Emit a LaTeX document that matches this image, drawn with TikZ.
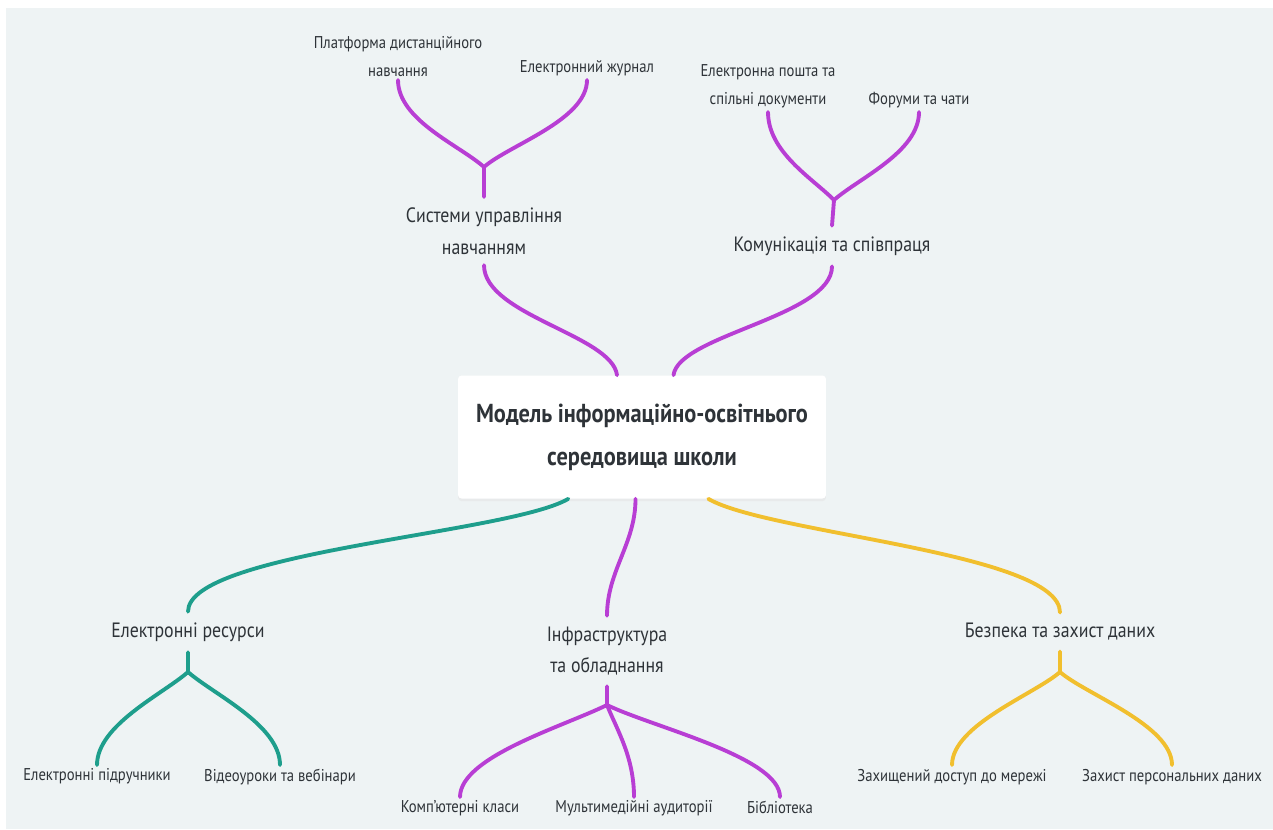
\documentclass[tikz,border=0pt]{standalone}
\usepackage{fontspec}
\setmainfont{PT Sans}[FakeStretch=0.86]
\usepackage{tikz}
\usetikzlibrary{shadows}
\definecolor{canvas}{RGB}{238,243,244}
\definecolor{ink}{RGB}{46,51,56}
\definecolor{violetlimb}{RGB}{184,62,212}
\definecolor{teallimb}{RGB}{30,158,140}
\definecolor{goldlimb}{RGB}{241,191,46}

\begin{document}
\begin{tikzpicture}[x=0.02cm, y=-0.02cm,
  core/.style={fill=white, rounded corners=2pt, minimum width=7.36cm, minimum height=2.46cm, font=\fontsize{14.8}{24.4}\selectfont\bfseries, text=ink, align=center, drop shadow={shadow xshift=0pt, shadow yshift=-1.5pt, fill=black!10, opacity=0.6}},
  topic/.style={font=\fontsize{11.8}{18}\selectfont, text=ink, align=center, inner xsep=2pt, inner ysep=6pt},
  leaf/.style={font=\fontsize{9.7}{15.9}\selectfont, text=ink, align=center, inner sep=2pt},
  limb/.style={line width=2.2pt, line cap=round, draw=#1}
]

% --- Canvas ---
\useasboundingbox (0,0) rectangle (1273,829);
\fill[white] (0,0) rectangle (1273,829);
\fill[canvas] (6,8) rectangle (1273,829);

% --- Centre ---
\node[core] (model) at (642,437) {Модель інформаційно-освітнього\\середовища школи};

% --- Main topics ---
\node[topic] (lms) at (484,231) {Системи управління\\навчанням};
\node[topic] (comm) at (832,246) {Комунікація та співпраця};
\node[topic] (eres) at (188,632) {Електронні ресурси};
\node[topic] (infra) at (607,651) {Інфраструктура\\та обладнання};
\node[topic] (secur) at (1060,632) {Безпека та захист даних};

% --- Fork points ---
\coordinate (lmsfork) at (484,167);
\coordinate (commfork) at (834,200);
\coordinate (eresfork) at (188,672);
\coordinate (infrafork) at (607,705);
\coordinate (securfork) at (1060,672);

% --- Leaves ---
\node[leaf, anchor=south] (distant) at (398,80) {Платформа дистанційного\\навчання};
\node[leaf, anchor=south] (journal) at (587,80) {Електронний журнал};
\node[leaf, anchor=south] (mail) at (768,112) {Електронна пошта та\\спільні документи};
\node[leaf, anchor=south] (forums) at (919,112) {Форуми та чати};
\node[leaf, anchor=north] (books) at (97,765) {Електронні підручники};
\node[leaf, anchor=north] (video) at (280,765) {Відеоуроки та вебінари};
\node[leaf, anchor=north] (labs) at (460,797) {Комп'ютерні класи};
\node[leaf, anchor=north] (media) at (634,797) {Мультимедійні аудиторії};
\node[leaf, anchor=north] (library) at (780,797) {Бібліотека};
\node[leaf, anchor=north] (access) at (952,765) {Захищений доступ до мережі};
\node[leaf, anchor=north] (privacy) at (1172,765) {Захист персональних даних};

% --- Centre -> topics ---
\draw[limb=violetlimb] (model.112) .. controls +(-5,-40) and +(0,50) .. (lms.south);
\draw[limb=violetlimb] (model.63) .. controls +(5,-40) and +(0,50) .. (comm.south);
\draw[limb=teallimb] (model.220) .. controls +(-60,35) and +(0,-60) .. (eres.north);
\draw[limb=violetlimb] (model.264) .. controls +(0,45) and +(0,-45) .. (infra.north);
\draw[limb=goldlimb] (model.317) .. controls +(60,35) and +(0,-60) .. (secur.north);

% --- Topics -> leaves ---
\draw[limb=violetlimb] (lms.north) -- (lmsfork) .. controls +(-25,-22) and +(0,40) .. (distant.south);
\draw[limb=violetlimb] (lmsfork) .. controls +(25,-22) and +(0,40) .. (journal.south);
\draw[limb=violetlimb] (comm.north) -- (commfork) .. controls +(-22,-22) and +(0,40) .. (mail.south);
\draw[limb=violetlimb] (commfork) .. controls +(25,-22) and +(0,40) .. (forums.south);
\draw[limb=teallimb] (eres.south) -- (eresfork) .. controls +(-25,22) and +(0,-40) .. (books.north);
\draw[limb=teallimb] (eresfork) .. controls +(25,22) and +(0,-40) .. (video.north);
\draw[limb=violetlimb] (infra.south) -- (infrafork) .. controls +(-45,22) and +(0,-40) .. (labs.north);
\draw[limb=violetlimb] (infrafork) .. controls +(10,25) and +(0,-40) .. (media.north);
\draw[limb=violetlimb] (infrafork) .. controls +(45,22) and +(0,-40) .. (library.north);
\draw[limb=goldlimb] (secur.south) -- (securfork) .. controls +(-25,22) and +(0,-40) .. (access.north);
\draw[limb=goldlimb] (securfork) .. controls +(25,22) and +(0,-40) .. (privacy.north);

\end{tikzpicture}
\end{document}
